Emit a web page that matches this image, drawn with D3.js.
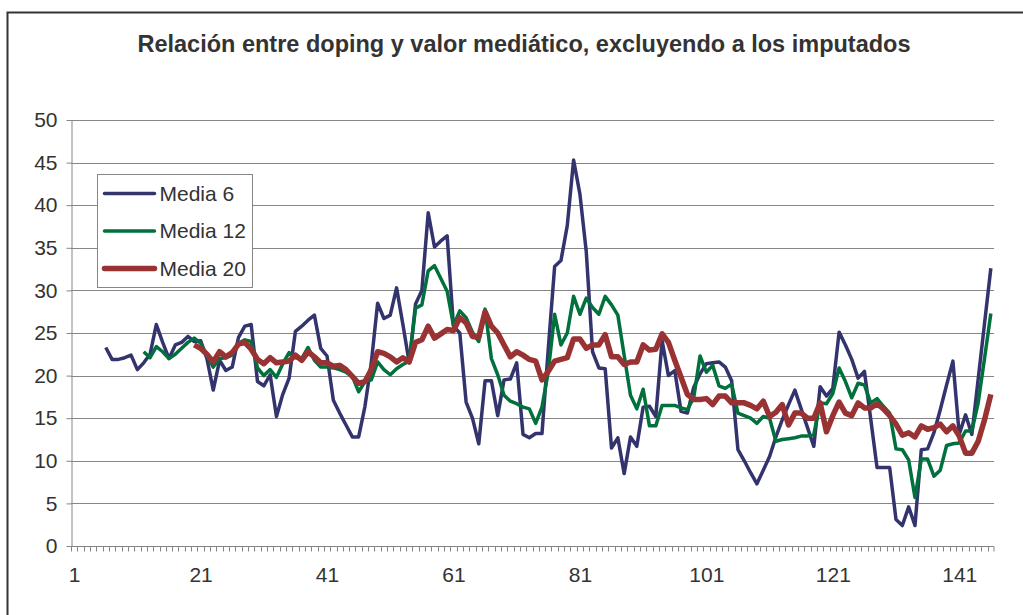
<!DOCTYPE html>
<html>
<head>
<meta charset="utf-8">
<script src="https://cdn.jsdelivr.net/npm/d3@7"></script>
<style>
  html, body { margin: 0; background: #fff; overflow: hidden; }
  svg { display: block; }
  text { font-family: "Liberation Sans", Arial, sans-serif; fill: #333; }
</style>
</head>
<body>
<div id="chart"></div>
<script>
// chart data
var title = "Relación entre doping y valor mediático, excluyendo a los imputados";
var categories = d3.range(1, 147);            // periods 1..146
var xTickLabels = [1, 21, 41, 61, 81, 101, 121, 141];
var yTickValues = [0, 5, 10, 15, 20, 25, 30, 35, 40, 45, 50];
var seriesNames = ["Media 6", "Media 12", "Media 20"];
var seriesStart = [6, 12, 20];               // first period with a value

var media6 = [
  23.3, 21.9, 21.9, 22.1, 22.4,
  20.7, 21.5, 22.5, 26.0, 23.9, 22.0, 23.6, 23.9, 24.6, 24.0,
  24.1, 22.0, 18.3, 21.8, 20.6, 21.0, 24.5, 25.8, 26.0, 19.3,
  18.8, 20.1, 15.2, 17.8, 19.7, 25.2, 25.8, 26.5, 27.1, 23.2,
  22.3, 17.1, 15.6, 14.2, 12.8, 12.8, 16.4, 21.5, 28.5, 26.7,
  27.1, 30.3, 26.0, 21.5, 28.4, 30.0, 39.1, 35.1, 35.8, 36.4,
  25.8, 25.0, 16.9, 15.0, 12.0, 19.4, 19.4, 15.3, 19.5, 19.6,
  21.5, 13.1, 12.7, 13.2, 13.2, 23.2, 32.8, 33.5, 37.6, 45.3,
  41.3, 34.6, 22.8, 20.9, 20.8, 11.5, 12.7, 8.5, 12.8, 11.7,
  16.3, 16.4, 15.2, 24.1, 20.0, 20.6, 15.8, 15.6, 18.6, 20.2,
  21.4, 21.5, 21.6, 21.0, 19.4, 11.3, 10.0, 8.6, 7.3, 8.9,
  10.5, 12.8, 14.8, 16.6, 18.3, 16.1, 13.9, 11.7, 18.7, 17.6,
  18.5, 25.1, 23.6, 21.9, 19.7, 20.5, 14.9, 9.2, 9.2, 9.2,
  3.1, 2.4, 4.6, 2.4, 11.3, 11.4, 13.3, 16.0, 18.9, 21.7,
  13.1, 15.4, 13.1, 19.6, 26.1, 32.6
];

var media12 = [
  22.8, 22.1, 23.4, 22.8, 22.0, 22.5, 23.2, 23.9, 24.4,
  23.8, 22.4, 21.0, 22.0, 22.1, 22.4, 23.8, 24.2, 24.0, 20.9,
  20.0, 20.7, 19.8, 21.4, 22.7, 22.1, 22.0, 23.3, 21.8, 21.0,
  21.0, 20.9, 20.7, 20.4, 19.9, 18.1, 19.3, 19.5, 21.6, 20.7,
  20.1, 20.8, 21.3, 21.7, 27.9, 28.3, 32.3, 32.9, 31.4, 29.9,
  25.9, 27.6, 26.8, 25.1, 24.0, 27.8, 22.0, 20.1, 17.7, 17.0,
  16.7, 16.3, 16.1, 14.4, 16.3, 20.5, 27.2, 23.6, 25.0, 29.3,
  27.2, 29.1, 28.0, 27.2, 29.3, 28.3, 27.1, 22.4, 17.7, 16.1,
  18.4, 14.1, 14.1, 16.5, 16.5, 16.5, 16.2, 16.0, 17.4, 22.3,
  20.4, 21.2, 18.8, 18.5, 19.0, 15.6, 15.3, 15.0, 14.4, 15.2,
  15.0, 12.3, 12.5, 12.6, 12.7, 12.9, 12.9, 13.1, 16.8, 16.7,
  17.9, 20.9, 19.3, 17.4, 19.1, 18.9, 16.8, 17.3, 16.4, 15.6,
  11.4, 11.3, 10.1, 5.7, 10.2, 10.2, 8.2, 8.9, 11.8, 12.0,
  12.1, 13.5, 13.5, 16.8, 22.0, 27.3
];

var media20 = [
  23.6,
  23.2, 22.5, 21.6, 22.8, 22.2, 22.7, 23.7, 23.9, 23.1, 21.9,
  21.4, 22.1, 21.5, 21.6, 21.7, 22.4, 21.8, 22.8, 22.2, 21.5,
  21.5, 21.1, 21.2, 20.7, 19.9, 19.1, 19.3, 20.7, 22.8, 22.6,
  22.2, 21.6, 22.1, 21.6, 23.9, 24.2, 25.8, 24.4, 24.9, 25.4,
  25.3, 26.8, 26.2, 24.6, 24.5, 27.5, 25.8, 25.0, 23.6, 22.2,
  22.8, 22.4, 21.9, 21.7, 19.5, 20.5, 21.7, 21.9, 22.1, 24.3,
  24.3, 23.2, 23.6, 23.6, 24.8, 22.2, 22.2, 21.3, 21.6, 21.6,
  23.6, 23.0, 23.1, 24.9, 23.9, 21.8, 19.8, 17.8, 17.2, 17.2,
  17.3, 16.6, 17.6, 17.6, 16.8, 16.8, 16.8, 16.5, 16.1, 17.0,
  15.2, 15.7, 16.6, 14.2, 15.6, 15.6, 15.0, 15.0, 16.8, 13.4,
  15.3, 16.9, 15.6, 15.3, 16.8, 16.2, 16.2, 16.7, 16.1, 15.3,
  14.3, 13.0, 13.3, 12.8, 14.1, 13.7, 13.9, 14.3, 13.4, 14.1,
  12.9, 10.9, 10.9, 12.3, 14.8, 17.8
];

var seriesValues = [media6, media12, media20];
var seriesColors = ["#33336e", "#00703c", "#993333"];
var seriesWidths = [3.5, 3.5, 5.5];

var width = 1023, height = 615;
var plot = {left: 71, right: 994, top: 120, bottom: 546};

var svg = d3.select("#chart")
  .append("svg")
  .attr("width", width)
  .attr("height", height);

// outer chart frame: only its top and left edges fall inside the picture
svg.append("path")
  .attr("d", `M7.5,${height} V12.5 H${width}`)
  .attr("fill", "none")
  .attr("stroke", "#333")
  .attr("stroke-width", 2);

svg.append("text")
  .attr("x", 524)
  .attr("y", 52)
  .attr("text-anchor", "middle")
  .attr("font-size", 23.5)
  .attr("font-weight", "bold")
  .text(title);

var x = d3.scalePoint()
  .domain(categories)
  .range([plot.left, plot.right])
  .padding(0.5);

var xBand = d3.scaleBand()
  .domain(categories)
  .range([plot.left, plot.right]);

var y = d3.scaleLinear()
  .domain([0, 50])
  .range([plot.bottom, plot.top]);

// gridlines
svg.append("g")
  .selectAll("line")
  .data(yTickValues.filter(d => d > 0))
  .join("line")
  .attr("x1", plot.left)
  .attr("x2", plot.right)
  .attr("y1", d => Math.round(y(d)) + 0.5)
  .attr("y2", d => Math.round(y(d)) + 0.5)
  .attr("stroke", "#868686")
  .attr("stroke-width", 1);

// y axis
var yAxis = svg.append("g")
  .attr("transform", `translate(${plot.left + 0.5},0)`)
  .call(d3.axisLeft(y).tickValues(yTickValues).tickSize(5).tickPadding(9).tickSizeOuter(0));
yAxis.select(".domain").attr("stroke", "#868686");
yAxis.selectAll(".tick line").attr("stroke", "#868686");
yAxis.selectAll("text")
  .attr("font-size", 21)
  .attr("font-family", '"Liberation Sans", Arial, sans-serif')
  .attr("fill", "#333");

// x axis: small ticks between categories
var xAxis = svg.append("g")
  .attr("transform", `translate(0,${plot.bottom + 0.5})`);
xAxis.append("line")
  .attr("x1", plot.left)
  .attr("x2", plot.right)
  .attr("stroke", "#868686");
xAxis.selectAll("line.tk")
  .data(categories.concat([null]))
  .join("line")
  .attr("class", "tk")
  .attr("x1", d => d === null ? plot.right : Math.round(xBand(d)) + 0.5)
  .attr("x2", d => d === null ? plot.right : Math.round(xBand(d)) + 0.5)
  .attr("y1", 0)
  .attr("y2", 5)
  .attr("stroke", "#868686");

var xLabels = svg.append("g")
  .attr("transform", `translate(0,${plot.bottom})`)
  .call(d3.axisBottom(x).tickValues(xTickLabels).tickSize(0).tickPadding(21));
xLabels.select(".domain").remove();
xLabels.selectAll("text")
  .attr("font-size", 21)
  .attr("font-family", '"Liberation Sans", Arial, sans-serif')
  .attr("fill", "#333");

// series
var line = d3.line()
  .defined(d => d.v != null)
  .x(d => x(d.i))
  .y(d => y(d.v));

seriesValues.forEach(function(vals, k) {
  var pts = vals.map((v, j) => ({i: seriesStart[k] + j, v: v}));
  svg.append("path")
    .datum(pts)
    .attr("fill", "none")
    .attr("stroke", seriesColors[k])
    .attr("stroke-width", seriesWidths[k])
    .attr("stroke-linejoin", "round")
    .attr("d", line);
});

// legend
var legend = svg.append("g").attr("transform", "translate(97.5,174.5)");
legend.append("rect")
  .attr("width", 155)
  .attr("height", 113)
  .attr("fill", "#fff")
  .attr("stroke", "#868686");
var item = legend.selectAll("g.item")
  .data(seriesNames)
  .join("g")
  .attr("class", "item")
  .attr("transform", (d, k) => `translate(0,${19 + k * 37.5})`);
item.append("line")
  .attr("x1", 7)
  .attr("x2", 57)
  .attr("stroke", (d, k) => seriesColors[k])
  .attr("stroke-width", (d, k) => seriesWidths[k])
  .attr("stroke-linecap", "round");
item.append("text")
  .attr("x", 62)
  .attr("dy", "0.35em")
  .attr("font-size", 21)
  .text(d => d);
</script>
</body>
</html>
